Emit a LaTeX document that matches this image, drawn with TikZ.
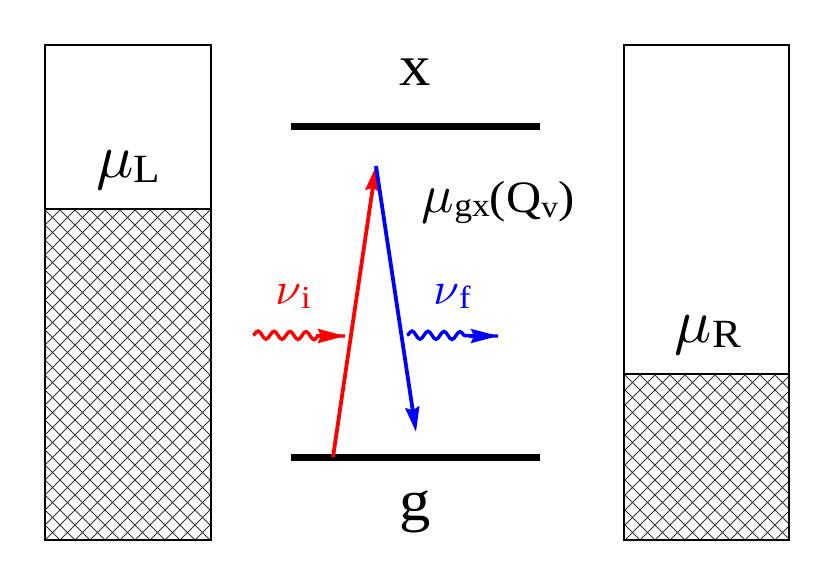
\documentclass[tikz,border=0pt]{standalone}
\usepackage{fontspec}
\setmainfont[FakeStretch=1.08]{Liberation Serif}
\DeclareFontFamily{OML}{cmm}{\skewchar\font127 }
\DeclareFontShape{OML}{cmm}{m}{it}{<->cmmi10}{}
\usetikzlibrary{arrows.meta,decorations.pathmorphing,calc}
\begin{document}
\begin{tikzpicture}[x=1pt,y=-1pt,
  box/.style={draw=black,line width=1.8pt},
  hatchline/.style={line width=0.9pt,draw=black!80},
  level/.style={line width=7pt},
  trans/.style={line width=3.8pt,-{Stealth[length=25pt,width=14pt,inset=3pt]}},
  photon/.style={line width=3.4pt,decorate,decoration={snake,amplitude=4pt,segment length=16pt,post length=26pt}},
  photontip/.style={line width=3.4pt,-{Stealth[length=27pt,width=14pt,inset=3pt]}},
  lbl/.style={inner sep=0pt,anchor=base}]
\useasboundingbox (0,0) rectangle (832,584);
% hatching
\begin{scope}
\clip (44,209) rectangle (210,539);
\foreach \c in {-405,-390,...,300} {
  \draw[hatchline] (\c,150) -- ++(450,450);
  \draw[hatchline] (\c+300,150) -- ++(-450,450);
}
\end{scope}
\begin{scope}
\clip (623,374) rectangle (788,539);
\foreach \c in {300,315,...,900} {
  \draw[hatchline] (\c,350) -- ++(250,250);
  \draw[hatchline] (\c+200,350) -- ++(-250,250);
}
\end{scope}
% reservoirs
\node[box,minimum width=166pt,minimum height=495pt,anchor=north west,inner sep=0pt] (L) at (44,44) {};
\draw[box] (44,209) -- (210,209);
\node[box,minimum width=165pt,minimum height=495pt,anchor=north west,inner sep=0pt] (R) at (623,44) {};
\draw[box] (623,374) -- (788,374);
\node[lbl] (muL) at (128,177) {\fontsize{62}{64}\selectfont$\mu$\raisebox{-5pt}{\fontsize{40}{40}\selectfont L}};
\node[lbl] (muR) at (708,342) {\fontsize{62}{64}\selectfont$\mu$\raisebox{-5pt}{\fontsize{40}{40}\selectfont R}};
% levels
\coordinate (xl) at (291,126); \coordinate (xr) at (540,126);
\coordinate (gl) at (291,457); \coordinate (gr) at (540,457);
\draw[level] (xl) -- (xr);
\draw[level] (gl) -- (gr);
\node[lbl] (xlab) at (415,85) {\fontsize{58}{60}\selectfont x};
\node[lbl] (glab) at (415,520) {\fontsize{58}{60}\selectfont g};
% transitions
\coordinate (r0) at (333,457);
\coordinate (top) at (376,166);
\coordinate (b1) at (416,432);
\draw[trans,red] (r0) -- (top);
\draw[trans,blue] (top) -- (b1);
\node[lbl] (mugx) at (498,212) {\fontsize{54}{54}\selectfont$\mu$\raisebox{-4pt}{\fontsize{33}{33}\selectfont gx}\fontsize{45}{46}\selectfont(Q\raisebox{-5pt}{\fontsize{31}{31}\selectfont v}\fontsize{45}{46}\selectfont)};
% photons
\coordinate (ri0) at (253,335); \coordinate (ri1) at (345,336);
\coordinate (bi0) at (407,335); \coordinate (bi1) at (498,336);
\draw[photon,red] (ri0) -- (ri1);
\draw[photontip,red] ($(ri1)+(-29,0)$) -- (ri1);
\draw[photon,blue] (bi0) -- (bi1);
\draw[photontip,blue] ($(bi1)+(-29,0)$) -- (bi1);
\node[lbl,red] (nui) at (293,304) {\fontsize{46}{48}\selectfont$\nu$\raisebox{-4pt}{\fontsize{32}{32}\selectfont i}};
\node[lbl,blue] (nuf) at (452,304) {\fontsize{46}{48}\selectfont$\nu$\raisebox{-4pt}{\fontsize{32}{32}\selectfont f}};
\end{tikzpicture}
\end{document}
